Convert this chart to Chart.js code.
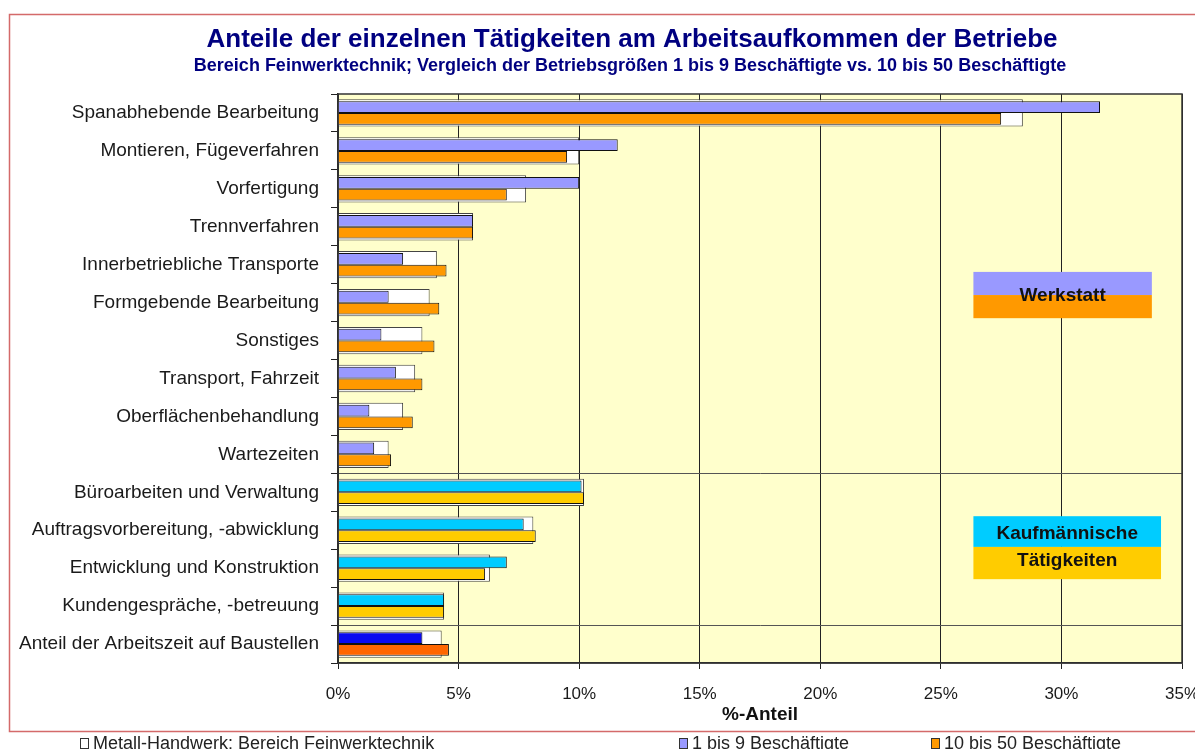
<!DOCTYPE html>
<html lang="de">
<head>
<meta charset="UTF-8">
<title>Anteile der einzelnen Tätigkeiten am Arbeitsaufkommen der Betriebe</title>
<script src="https://cdn.jsdelivr.net/npm/chart.js"></script>
<style>
  html, body { margin: 0; padding: 0; background: #fff; overflow: hidden; }
  #wrap { position: relative; width: 1195px; height: 749px; }
  .item { position: absolute; top: 732px; font: 18px 'Liberation Sans', Arial, sans-serif; color: #222; white-space: nowrap; line-height: 22px; }
  .box { display: inline-block; width: 7px; height: 9px; border: 1px solid #333; margin-right: 4px; vertical-align: 0; }
</style>
</head>
<body>
<div id="wrap">
  <canvas id="chart"></canvas>
  <div class="item" style="left:80px"><span class="box" style="background:#fff"></span>Metall-Handwerk: Bereich Feinwerktechnik</div>
  <div class="item" style="left:679px"><span class="box" style="background:#9999FF"></span>1 bis 9 Beschäftigte</div>
  <div class="item" style="left:931px"><span class="box" style="background:#FF9900"></span>10 bis 50 Beschäftigte</div>
</div>
<script>
// Tätigkeiten (von oben nach unten)
const taetigkeiten = [
  'Spanabhebende Bearbeitung',
  'Montieren, Fügeverfahren',
  'Vorfertigung',
  'Trennverfahren',
  'Innerbetriebliche Transporte',
  'Formgebende Bearbeitung',
  'Sonstiges',
  'Transport, Fahrzeit',
  'Oberflächenbehandlung',
  'Wartezeiten',
  'Büroarbeiten und Verwaltung',
  'Auftragsvorbereitung, -abwicklung',
  'Entwicklung und Konstruktion',
  'Kundengespräche, -betreuung',
  'Anteil der Arbeitszeit auf Baustellen'
];
const bereich = ['W', 'W', 'W', 'W', 'W', 'W', 'W', 'W', 'W', 'W', 'K', 'K', 'K', 'K', 'B'];

// Anteile in %
const feinwerktechnik = [28.4, 10.0, 7.8, 5.6, 4.1, 3.8, 3.5, 3.2, 2.7, 2.1, 10.2, 8.1, 6.3, 4.4, 4.3];
const klein = [31.6, 11.6, 10.0, 5.6, 2.7, 2.1, 1.8, 2.4, 1.3, 1.5, 10.1, 7.7, 7.0, 4.4, 3.5];  // 1 bis 9
const gross = [27.5, 9.5, 7.0, 5.6, 4.5, 4.2, 4.0, 3.5, 3.1, 2.2, 10.2, 8.2, 6.1, 4.4, 4.6];  // 10 bis 50

const xTicks = [0, 5, 10, 15, 20, 25, 30, 35];

const titel = 'Anteile der einzelnen Tätigkeiten am Arbeitsaufkommen der Betriebe';
const untertitel = 'Bereich Feinwerktechnik; Vergleich der Betriebsgrößen 1 bis 9 Beschäftigte vs. 10 bis 50 Beschäftigte';

const farbeKlein = { W: '#9999FF', K: '#00CCFF', B: '#0A0AF0' };
const farbeGross = { W: '#FF9900', K: '#FFCC00', B: '#FF6600' };

const schrift = "'Liberation Sans', Arial, sans-serif";

// Rahmen, Titel, Hintergrund und Beschriftungskästen
const deko = {
  id: 'deko',
  beforeDraw(chart) {
    const { ctx, chartArea: a } = chart;
    ctx.save();
    ctx.fillStyle = '#FFFFCC';
    ctx.fillRect(a.left, a.top, a.right - a.left, a.bottom - a.top);
    ctx.strokeStyle = '#D46A6A';
    ctx.lineWidth = 1.5;
    ctx.beginPath();
    ctx.moveTo(chart.width, 14.5);
    ctx.lineTo(9.5, 14.5);
    ctx.lineTo(9.5, 731.5);
    ctx.lineTo(chart.width, 731.5);
    ctx.stroke();

    // Titel etwas rechts der Mitte wie im Original
    ctx.fillStyle = '#000080';
    ctx.textAlign = 'center';
    ctx.textBaseline = 'middle';
    ctx.font = 'bold 26px ' + schrift;
    ctx.fillText(titel, 632, 40);
    ctx.font = 'bold 18px ' + schrift;
    ctx.fillText(untertitel, 630, 66);
    ctx.restore();
  },
  afterDatasetsDraw(chart) {
    const { ctx, chartArea: a } = chart;
    const x = chart.scales.x, y = chart.scales.y;
    const kaesten = [
      { von: 26.35, bis: 33.75, oben: 4.19, mitte: 4.8, unten: 5.41, farben: ['#9999FF', '#FF9900'], text: [['Werkstatt', 4.83]] },
      { von: 26.35, bis: 34.13, oben: 10.63, mitte: 11.44, unten: 12.29, farben: ['#00CCFF', '#FFCC00'], text: [['Kaufmännische', 11.1], ['Tätigkeiten', 11.81]] }
    ];
    ctx.save();
    kaesten.forEach(k => {
      const l = x.getPixelForValue(k.von), r = x.getPixelForValue(k.bis);
      const t = y.getPixelForValue(k.oben), m = y.getPixelForValue(k.mitte), b = y.getPixelForValue(k.unten);
      ctx.fillStyle = k.farben[0];
      ctx.fillRect(l, t, r - l, m - t);
      ctx.fillStyle = k.farben[1];
      ctx.fillRect(l, m, r - l, b - m);
      ctx.fillStyle = '#111';
      ctx.font = 'bold 19px ' + schrift;
      ctx.textAlign = 'center';
      ctx.textBaseline = 'middle';
      k.text.forEach(([s, v]) => ctx.fillText(s, (l + r) / 2, y.getPixelForValue(v)));
    });
    // Rahmen der Zeichenfläche
    ctx.strokeStyle = '#333';
    ctx.lineWidth = 1.5;
    ctx.strokeRect(a.left, a.top, a.right - a.left, a.bottom - a.top);
    ctx.restore();
  }
};

new Chart(document.getElementById('chart'), {
  type: 'bar',
  data: {
    labels: taetigkeiten,
    datasets: [
      {
        label: 'Metall-Handwerk: Bereich Feinwerktechnik',
        data: feinwerktechnik,
        grouped: false,
        backgroundColor: '#FFFFFF',
        borderColor: '#444',
        borderWidth: 1,
        categoryPercentage: 1,
        barPercentage: 0.72,
        order: 2
      },
      {
        label: '1 bis 9 Beschäftigte',
        data: klein,
        backgroundColor: bereich.map(b => farbeKlein[b]),
        borderColor: '#111',
        borderWidth: 1,
        categoryPercentage: 0.62,
        barPercentage: 1,
        order: 1
      },
      {
        label: '10 bis 50 Beschäftigte',
        data: gross,
        backgroundColor: bereich.map(b => farbeGross[b]),
        borderColor: '#111',
        borderWidth: 1,
        categoryPercentage: 0.62,
        barPercentage: 1,
        order: 1
      }
    ]
  },
  options: {
    indexAxis: 'y',
    responsive: true,
    maintainAspectRatio: false,
    animation: false,
    layout: { padding: { left: 0, right: 13, top: 94, bottom: 22 } },
    scales: {
      x: {
        type: 'linear',
        min: 0,
        max: 35,
        afterBuildTicks: s => { s.ticks = xTicks.map(v => ({ value: v })); },
        afterFit: s => { s.height = 64; s.paddingRight = 13; s.paddingLeft = 0; },
        ticks: {
          callback: v => v + '%',
          color: '#1a1a1a',
          font: { family: schrift, size: 17 },
          padding: 15,
          maxRotation: 0
        },
        grid: { color: '#222', lineWidth: 1, tickLength: 6, tickColor: '#222' },
        border: { color: '#222', width: 1.5 },
        title: {
          display: true,
          text: '%-Anteil',
          color: '#111',
          font: { family: schrift, size: 19, weight: 'bold' },
          padding: { top: 0, bottom: 1 }
        }
      },
      y: {
        type: 'category',
        offset: true,
        afterFit: s => { s.width = 338; s.paddingTop = 0; s.paddingBottom = 0; },
        ticks: {
          autoSkip: false,
          color: '#1a1a1a',
          font: { family: schrift, size: 19 },
          padding: 12
        },
        grid: {
          offset: true,
          tickLength: 7,
          tickColor: '#222',
          color: c => (c.index === 10 || c.index === 14) ? '#555' : 'rgba(0,0,0,0)'
        },
        border: { color: '#222', width: 1.5 }
      }
    },
    plugins: {
      legend: { display: false },
      tooltip: { enabled: false }
    }
  },
  plugins: [deko]
});
</script>
</body>
</html>
